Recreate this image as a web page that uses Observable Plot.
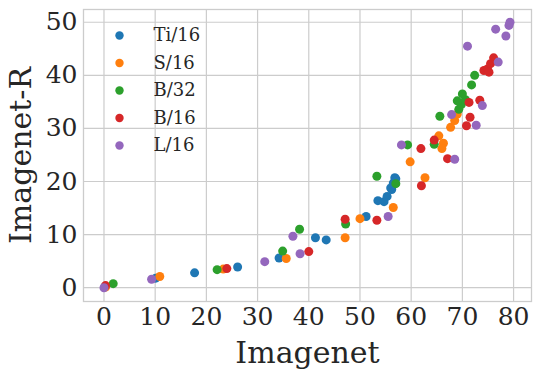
<!DOCTYPE html>
<html>
<head>
<meta charset="utf-8">
<script src="https://cdn.jsdelivr.net/npm/d3@7"></script>
<script src="https://cdn.jsdelivr.net/npm/@observablehq/plot@0.6"></script>
<style>
  html, body { margin: 0; padding: 0; background: #fff; }
  #chart { width: 540px; height: 376px; }
</style>
</head>
<body>
<div id="chart"></div>
<script>
const seriesNames = ["Ti/16", "S/16", "B/32", "B/16", "L/16"];
const seriesColors = ["#1f77b4", "#ff7f0e", "#2ca02c", "#d62728", "#9467bd"];
const xTicks = [0, 10, 20, 30, 40, 50, 60, 70, 80];
const yTicks = [0, 10, 20, 30, 40, 50];

const ti16 = [[0.2,0.2],[10.1,1.8],[17.7,2.8],[26.1,3.9],[34.2,5.6],[41.3,9.4],[43.4,9.0],[51.2,13.4],[53.5,16.4],[54.7,16.2],[55.3,17.2],[56.2,18.5],[56.0,18.8],[56.5,19.7],[56.8,20.7],[57.0,20.5]];
const s16 = [[0.3,0.1],[10.9,2.1],[23.3,3.5],[35.6,5.5],[47.1,9.4],[50.0,13.0],[56.5,15.1],[59.8,23.7],[62.7,20.7],[65.4,28.6],[66.3,27.2],[66.0,26.2],[67.7,30.2],[68.5,31.5],[69.0,32.7]];
const b32 = [[1.8,0.76],[22.1,3.4],[34.9,6.9],[38.2,11.0],[47.2,12.0],[53.3,21.0],[57.0,19.6],[59.3,26.9],[64.5,27.0],[65.6,32.3],[69.3,33.6],[69.8,34.5],[69.0,35.2],[70.6,35.4],[70.0,36.5],[71.8,38.2],[72.4,40.0]];
const b16 = [[0.3,0.4],[24.0,3.6],[40.0,6.8],[47.1,12.9],[53.3,12.7],[62.0,19.2],[61.9,26.2],[64.5,27.8],[67.1,24.3],[70.8,30.5],[71.5,32.1],[71.3,34.9],[73.4,35.3],[74.2,40.9],[74.9,41.2],[75.2,40.6],[75.5,42.2],[76.1,43.3]];
const l16 = [[0.0,0.0],[9.3,1.6],[31.4,4.9],[36.9,9.7],[38.3,6.4],[55.5,13.4],[58.1,26.9],[67.9,32.6],[68.5,24.2],[72.7,30.6],[73.9,34.3],[71.0,45.5],[77.0,42.5],[76.5,48.7],[78.5,47.4],[79.1,49.4],[79.3,50.0]];

const seriesData = [ti16, s16, b32, b16, l16];
const rows = seriesData.flatMap((arr, i) => arr.map(([x, y]) => ({x, y, model: seriesNames[i]})));

const font = "DejaVu Serif";
const ink = "#262626";
const gridColor = "#cccccc";

const legendMarks = seriesNames.flatMap((name, i) => [
  Plot.dot([name], {frameAnchor: "top-left", dx: 36, dy: 26 + 27.5 * i, r: 4.2, fill: seriesColors[i]}),
  Plot.text([name], {frameAnchor: "top-left", dx: 70, dy: 26 + 27.5 * i, text: d => d, textAnchor: "start", lineAnchor: "middle", fontSize: 18, fontFamily: font, fill: ink})
]);

const chart = Plot.plot({
  width: 540,
  height: 376,
  marginLeft: 83,
  marginRight: 9,
  marginTop: 9,
  marginBottom: 75,
  style: {background: "#fff", fontFamily: font},
  x: {domain: [-4, 83.5]},
  y: {domain: [-2.6, 52.4]},
  color: {domain: seriesNames, range: seriesColors},
  marks: [
    Plot.gridX(xTicks, {stroke: gridColor, strokeOpacity: 1, strokeWidth: 1.2}),
    Plot.gridY(yTicks, {stroke: gridColor, strokeOpacity: 1, strokeWidth: 1.2}),
    Plot.frame({stroke: gridColor, strokeWidth: 1.3}),
    Plot.axisX(xTicks, {tickSize: 0, tickPadding: 6, fontSize: 25, fontFamily: font, fill: ink, label: null}),
    Plot.axisY(yTicks, {tickSize: 0, tickPadding: 6, fontSize: 25, fontFamily: font, fill: ink, label: null}),
    Plot.dot(rows, {x: "x", y: "y", fill: "model", r: 4.5}),
    ...legendMarks,
    Plot.text(["Imagenet"], {frameAnchor: "bottom", dy: 52, text: d => d, fontSize: 30, fontFamily: font, fill: ink, lineAnchor: "middle", textAnchor: "middle"}),
    Plot.text(["Imagenet-R"], {frameAnchor: "left", dx: -62, text: d => d, rotate: -90, fontSize: 30, fontFamily: font, fill: ink, lineAnchor: "middle", textAnchor: "middle"})
  ]
});
document.getElementById("chart").appendChild(chart);
</script>
</body>
</html>
